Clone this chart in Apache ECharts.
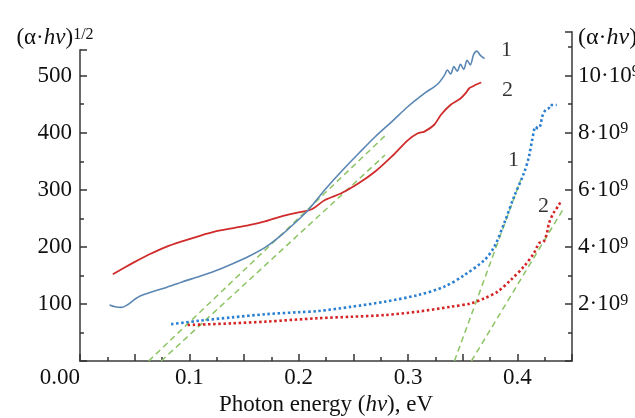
<!DOCTYPE html>
<html><head><meta charset="utf-8">
<script src="https://cdn.jsdelivr.net/npm/echarts@6/dist/echarts.min.js"></script>
<style>html,body{margin:0;padding:0;background:#fff}#c{width:635px;height:418px}</style>
</head><body><div id="c"></div>
<script>
// ---- data (x in eV) ----
const blueSolidX = [0.027,0.032,0.038,0.043,0.050,0.055,0.064,0.079,0.094,0.109,0.124,0.139,0.155,0.170,0.185,0.200,0.209,0.224,0.239,0.255,0.270,0.285,0.300,0.315,0.327,0.3334,0.336,0.339,0.342,0.345,0.348,0.351,0.354,0.357,0.360,0.363,0.366,0.370];
const blueSolidY = [98,95,94,98,108,114,120,129,139,148,158,170,184,200,222,248,265,300,332,364,393,419,446,469,485,501,510,503,516,508,520,511,527,519,537,543,536,530];
const redSolidX = [0.030,0.040,0.0485,0.0636,0.0788,0.094,0.109,0.124,0.139,0.1545,0.170,0.185,0.200,0.212,0.224,0.239,0.2545,0.270,0.285,0.300,0.309,0.315,0.324,0.330,0.339,0.348,0.353,0.356,0.359,0.363,0.367];
const redSolidY = [152,163,172,187,200,210,219,227,232.5,238,245,254,260.5,266,282,294,311,332,358,387,399,402,414,431,449,460,470,478,481,485,488];
// right axis values, units of 10^9
const blueDotX = [0.0833,0.109,0.139,0.170,0.200,0.218,0.248,0.279,0.309,0.333,0.3515,0.370,0.379,0.388,0.397,0.406,0.4106,0.4136,0.4167,0.419,0.4212,0.4227,0.4258,0.4288,0.430,0.436];
const blueDotY = [1.29,1.41,1.53,1.64,1.71,1.75,1.90,2.08,2.31,2.60,3.01,3.54,4.01,4.83,5.76,6.58,7.16,7.75,8.21,8.15,8.27,8.56,8.80,8.86,8.97,8.97];
const redDotX = [0.0985,0.139,0.170,0.218,0.248,0.279,0.309,0.339,0.3576,0.370,0.382,0.394,0.406,0.415,0.418,0.4197,0.424,0.427,0.429,0.433,0.438,0.4403];
const redDotY = [1.26,1.32,1.38,1.50,1.55,1.61,1.73,1.90,2.02,2.20,2.43,2.84,3.31,3.77,4.00,4.13,4.18,4.47,4.83,5.18,5.47,5.64];
// tangent (extrapolation) lines
const tan1X = [0.0628,0.2814], tan1Y = [0,399];
const tan2X = [0.0742,0.279],  tan2Y = [0,361];
const tan3X = [0.3425,0.403],  tan3Y = [0,6.34];
const tan4X = [0.358,0.4424],  tan4Y = [0,5.35];
// curve number labels
const leftCurveLabels = ['1','2'], leftCurveLabelX = [0.390,0.391], leftCurveLabelY = [545,475];
const rightCurveLabels = ['1','2'], rightCurveLabelX = [0.3965,0.424], rightCurveLabelY = [7.05,5.43];
// tick labels
const xTickLabels = {0:'0.00',1:'0.1',2:'0.2',3:'0.3',4:'0.4'};
const leftTickLabels = [100,200,300,400,500];
const rightTickLabels = {2:'2·10',4:'4·10',6:'6·10',8:'8·10',10:'10·10'};

const FF = 'Liberation Serif';
const pairs = (xs, ys) => xs.map((x,i)=>[x, ys[i]]);
const axisLineStyle = {color:'#6a6a6a', width:2};
const tickStyle = {color:'#333', width:1.5};
const numLabel = {show:true, position:[0,0], align:'center', verticalAlign:'middle',
  formatter:p=>p.data[2], fontFamily:FF, fontSize:22, color:'#000'};

const chart = echarts.init(document.getElementById('c'), null, {renderer:'canvas'});
chart.setOption({
  animation:false,
  backgroundColor:'#fff',
  textStyle:{fontFamily:FF},
  grid:[
    {left:80, right:63, top:50, bottom:57, containLabel:false, outerBoundsMode:'none'},
    {left:80, right:63, top:32, bottom:57, containLabel:false, outerBoundsMode:'none'}
  ],
  xAxis:[
    {type:'value', gridIndex:0, min:0, max:0.45, interval:0.05,
     axisLine:{show:true, onZero:false, lineStyle:axisLineStyle},
     axisTick:{show:true, inside:true, length:7, lineStyle:tickStyle},
     minorTick:{show:true, splitNumber:2, length:4, lineStyle:tickStyle},
     splitLine:{show:false},
     axisLabel:{fontFamily:FF, fontSize:23, color:'#111', margin:5, alignMinLabel:'right',
       formatter:v=>{const k=Math.round(v*10); return Math.abs(v*10-k)<1e-6 && xTickLabels[k]!==undefined ? xTickLabels[k] : '';}},
     name:'{n|Photon energy (}{i|hv}{n|), eV}', nameLocation:'middle', nameGap:24,
     nameTextStyle:{rich:{n:{fontFamily:FF,fontSize:23,color:'#111'}, i:{fontFamily:FF,fontSize:23,fontStyle:'italic',color:'#111'}}}
    },
    {type:'value', gridIndex:1, min:0, max:0.45, show:false}
  ],
  yAxis:[
    {type:'value', gridIndex:0, min:0, max:545, interval:100,
     axisLine:{show:true, onZero:false, lineStyle:axisLineStyle},
     axisTick:{show:true, inside:true, length:7, lineStyle:tickStyle},
     minorTick:{show:true, splitNumber:2, length:4, lineStyle:tickStyle},
     splitLine:{show:false},
     axisLabel:{fontFamily:FF, fontSize:23, color:'#111', margin:8,
       formatter:v=>leftTickLabels.indexOf(v)>=0 ? String(v) : ''},
     name:'{n|(α·}{i|hv}{n|)}{s|1/2}', nameLocation:'end', nameGap:12,
     nameTextStyle:{align:'center', verticalAlign:'middle', padding:[0,50,0,0],
       rich:{n:{fontFamily:FF,fontSize:23,color:'#111'}, i:{fontFamily:FF,fontSize:23,fontStyle:'italic',color:'#111'},
             s:{fontFamily:FF,fontSize:16,color:'#111',verticalAlign:'top'}}}
    },
    {type:'value', gridIndex:1, position:'right', min:0, max:11.53, interval:2,
     axisLine:{show:true, onZero:false, lineStyle:axisLineStyle},
     axisTick:{show:true, inside:true, length:7, lineStyle:tickStyle},
     minorTick:{show:true, splitNumber:2, length:4, lineStyle:tickStyle},
     splitLine:{show:false},
     axisLabel:{margin:6, color:'#111',
       formatter:v=>rightTickLabels[v]!==undefined ? '{b|'+rightTickLabels[v]+'}{s|9}' : '',
       rich:{b:{fontFamily:FF,fontSize:23,color:'#111'}, s:{fontFamily:FF,fontSize:16,color:'#111',verticalAlign:'top'}}},
     name:'{g|}{n|(α·}{i|hv}{n|)}', nameLocation:'end', nameGap:-6,
     nameTextStyle:{align:'left', verticalAlign:'middle',
       rich:{g:{width:6}, n:{fontFamily:FF,fontSize:24,color:'#111'}, i:{fontFamily:FF,fontSize:24,fontStyle:'italic',color:'#111'}}}
    }
  ],
  series:[
    {type:'line', xAxisIndex:0, yAxisIndex:0, data:pairs(tan1X,tan1Y), symbol:'none', clip:false, z:2,
     lineStyle:{color:'#8cc464', width:1.5, type:[6,4]}},
    {type:'line', xAxisIndex:0, yAxisIndex:0, data:pairs(tan2X,tan2Y), symbol:'none', clip:false, z:2,
     lineStyle:{color:'#8cc464', width:1.5, type:[6,4]}},
    {type:'line', xAxisIndex:1, yAxisIndex:1, data:pairs(tan3X,tan3Y), symbol:'none', clip:false, z:2,
     lineStyle:{color:'#8cc464', width:1.5, type:[6,4]}},
    {type:'line', xAxisIndex:1, yAxisIndex:1, data:pairs(tan4X,tan4Y), symbol:'none', clip:false, z:2,
     lineStyle:{color:'#8cc464', width:1.5, type:[6,4]}},
    {type:'line', xAxisIndex:0, yAxisIndex:0, data:pairs(redSolidX,redSolidY), symbol:'none', smooth:0.3, clip:false, z:3,
     lineStyle:{color:'#d02c2c', width:1.8}},
    {type:'line', xAxisIndex:0, yAxisIndex:0, data:pairs(blueSolidX,blueSolidY), symbol:'none', smooth:0.3, clip:false, z:3,
     lineStyle:{color:'#5a86b4', width:1.6}},
    {type:'line', xAxisIndex:1, yAxisIndex:1, data:pairs(blueDotX,blueDotY), symbol:'none', smooth:0.3, clip:false, z:3,
     lineStyle:{color:'#2a7fd0', width:2.6, type:[2.5,2.6]}},
    {type:'line', xAxisIndex:1, yAxisIndex:1, data:pairs(redDotX,redDotY), symbol:'none', smooth:0.3, clip:false, z:3,
     lineStyle:{color:'#d42424', width:2.6, type:[2.5,2.6]}},
    {type:'scatter', xAxisIndex:0, yAxisIndex:0, silent:true, symbolSize:0, itemStyle:{color:'#000'},
     data:leftCurveLabels.map((t,i)=>[leftCurveLabelX[i], leftCurveLabelY[i], t]), clip:false, label:numLabel},
    {type:'scatter', xAxisIndex:1, yAxisIndex:1, silent:true, symbolSize:0, itemStyle:{color:'#000'},
     data:rightCurveLabels.map((t,i)=>[rightCurveLabelX[i], rightCurveLabelY[i], t]), clip:false, label:numLabel}
  ]
});
</script>
</body></html>
